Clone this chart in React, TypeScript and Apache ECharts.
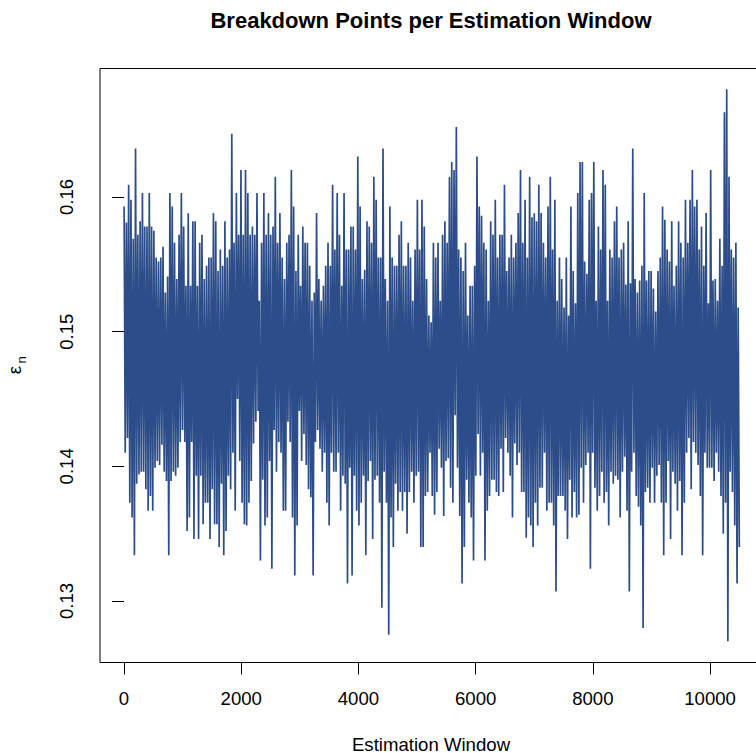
import React, { useEffect, useRef } from "react";
import * as echarts from "echarts";

// Breakdown point per estimation window, stored as successive window values
// (each row holds alternating local highs and lows of the dense series).
const epsilon: number[] = [
  0.1593, 0.1410, 0.1581, 0.1421, 0.1609, 0.1373, 0.1598, 0.1362, 0.1569, 0.1334, 0.1636, 0.1387, 0.1572, 0.1394,
  0.1582, 0.1396, 0.1603, 0.1396, 0.1578, 0.1383, 0.1578, 0.1367, 0.1603, 0.1378, 0.1578, 0.1367, 0.1575, 0.1399,
  0.1555, 0.1404, 0.1552, 0.1401, 0.1555, 0.1416, 0.1563, 0.1396, 0.1529, 0.1389, 0.1541, 0.1334, 0.1603, 0.1389,
  0.1593, 0.1396, 0.1566, 0.1393, 0.1539, 0.1399, 0.1572, 0.1418, 0.1603, 0.1427,

  0.1578, 0.1418, 0.1534, 0.1352, 0.1588, 0.1362, 0.1534, 0.1418, 0.1582, 0.1346, 0.1582, 0.1393, 0.1534, 0.1346,
  0.1566, 0.1393, 0.1572, 0.1357, 0.1539, 0.1373, 0.1549, 0.1373, 0.1555, 0.1346, 0.1555, 0.1383, 0.1588, 0.1357,
  0.1582, 0.1357, 0.1545, 0.1340, 0.1561, 0.1387, 0.1549, 0.1334, 0.1582, 0.1352, 0.1555, 0.1393, 0.1561, 0.1383,
  0.1647, 0.1410, 0.1566, 0.1367, 0.1603, 0.1450, 0.1572, 0.1404, 0.1620, 0.1373, 0.1572, 0.1357, 0.1620, 0.1356,
  0.1603, 0.1373, 0.1572, 0.1389, 0.1578, 0.1417, 0.1572, 0.1433, 0.1603, 0.1441, 0.1523, 0.1330,

  0.1566, 0.1390, 0.1603, 0.1356, 0.1572, 0.1362, 0.1588, 0.1404, 0.1572, 0.1324, 0.1578, 0.1427, 0.1615, 0.1396,
  0.1566, 0.1418, 0.1588, 0.1410, 0.1555, 0.1367, 0.1539, 0.1367, 0.1566, 0.1433, 0.1572, 0.1418, 0.1620, 0.1362,
  0.1593, 0.1319, 0.1545, 0.1356, 0.1572, 0.1441, 0.1534, 0.1404, 0.1578, 0.1424, 0.1566, 0.1401, 0.1566, 0.1383,
  0.1549, 0.1377, 0.1523, 0.1319, 0.1529, 0.1418, 0.1588, 0.1427, 0.1539, 0.1413, 0.1523, 0.1396, 0.1534, 0.1410,
  0.1549, 0.1373, 0.1566, 0.1356, 0.1549, 0.1410, 0.1609, 0.1396, 0.1561, 0.1396, 0.1603, 0.1410, 0.1572, 0.1367,

  0.1534, 0.1393, 0.1603, 0.1387, 0.1561, 0.1313, 0.1561, 0.1399, 0.1578, 0.1319, 0.1578, 0.1393, 0.1561, 0.1367,
  0.1630, 0.1356, 0.1593, 0.1373, 0.1539, 0.1393, 0.1546, 0.1334, 0.1582, 0.1389, 0.1578, 0.1404, 0.1566, 0.1346,
  0.1615, 0.1390, 0.1598, 0.1393, 0.1555, 0.1373, 0.1555, 0.1295, 0.1636, 0.1396, 0.1539, 0.1373, 0.1523, 0.1275,
  0.1593, 0.1362, 0.1555, 0.1340, 0.1549, 0.1387, 0.1549, 0.1367, 0.1572, 0.1381, 0.1582, 0.1367, 0.1549, 0.1381,
  0.1549, 0.1350, 0.1566, 0.1381, 0.1555, 0.1396, 0.1523, 0.1373, 0.1561, 0.1393, 0.1598, 0.1396, 0.1561, 0.1340,

  0.1598, 0.1340, 0.1578, 0.1378, 0.1539, 0.1381, 0.1512, 0.1410, 0.1507, 0.1378, 0.1566, 0.1364, 0.1555, 0.1381,
  0.1566, 0.1413, 0.1523, 0.1399, 0.1572, 0.1363, 0.1582, 0.1404, 0.1566, 0.1406, 0.1615, 0.1384, 0.1626, 0.1373,
  0.1620, 0.1438, 0.1652, 0.1399, 0.1561, 0.1363, 0.1555, 0.1313, 0.1545, 0.1340, 0.1566, 0.1390, 0.1512, 0.1373,
  0.1534, 0.1362, 0.1534, 0.1330, 0.1549, 0.1393, 0.1630, 0.1424, 0.1593, 0.1393, 0.1586, 0.1410, 0.1566, 0.1330,
  0.1561, 0.1367, 0.1523, 0.1378, 0.1582, 0.1390, 0.1572, 0.1390, 0.1598, 0.1381, 0.1555, 0.1378, 0.1572, 0.1413,

  0.1572, 0.1381, 0.1609, 0.1421, 0.1545, 0.1410, 0.1555, 0.1393, 0.1572, 0.1362, 0.1555, 0.1417, 0.1566, 0.1401,
  0.1588, 0.1410, 0.1620, 0.1381, 0.1566, 0.1381, 0.1598, 0.1347, 0.1555, 0.1362, 0.1615, 0.1356, 0.1585, 0.1340,
  0.1588, 0.1373, 0.1582, 0.1356, 0.1609, 0.1384, 0.1588, 0.1384, 0.1566, 0.1410, 0.1555, 0.1367, 0.1593, 0.1373,
  0.1615, 0.1373, 0.1561, 0.1356, 0.1598, 0.1307, 0.1523, 0.1378, 0.1555, 0.1378, 0.1539, 0.1378, 0.1518, 0.1367,
  0.1555, 0.1346, 0.1512, 0.1390, 0.1593, 0.1362, 0.1545, 0.1381, 0.1521, 0.1362, 0.1603, 0.1364, 0.1626, 0.1399,

  0.1626, 0.1373, 0.1552, 0.1401, 0.1543, 0.1410, 0.1598, 0.1324, 0.1603, 0.1410, 0.1626, 0.1384, 0.1523, 0.1367,
  0.1578, 0.1378, 0.1561, 0.1396, 0.1620, 0.1373, 0.1609, 0.1381, 0.1523, 0.1356, 0.1561, 0.1396, 0.1555, 0.1387,
  0.1582, 0.1393, 0.1593, 0.1390, 0.1555, 0.1362, 0.1561, 0.1396, 0.1566, 0.1407, 0.1535, 0.1367, 0.1582, 0.1307,
  0.1536, 0.1396, 0.1636, 0.1410, 0.1539, 0.1378, 0.1529, 0.1370, 0.1538, 0.1356, 0.1549, 0.1280, 0.1603, 0.1381,
  0.1538, 0.1384, 0.1545, 0.1373, 0.1545, 0.1399, 0.1532, 0.1373, 0.1515, 0.1393, 0.1545, 0.1401, 0.1555, 0.1373,

  0.1593, 0.1334, 0.1583, 0.1373, 0.1561, 0.1404, 0.1552, 0.1346, 0.1582, 0.1396, 0.1534, 0.1387, 0.1549, 0.1367,
  0.1582, 0.1389, 0.1566, 0.1334, 0.1555, 0.1373, 0.1598, 0.1410, 0.1566, 0.1421, 0.1598, 0.1383, 0.1620, 0.1418,
  0.1593, 0.1410, 0.1598, 0.1401, 0.1561, 0.1378, 0.1578, 0.1334, 0.1549, 0.1410, 0.1588, 0.1399, 0.1521, 0.1399,
  0.1620, 0.1399, 0.1538, 0.1389, 0.1539, 0.1410, 0.1523, 0.1396, 0.1569, 0.1378, 0.1549, 0.1350, 0.1663, 0.1373,
  0.1680, 0.1270, 0.1615, 0.1396, 0.1561, 0.1381, 0.1555, 0.1356, 0.1566, 0.1313, 0.1518, 0.1340,
];

// Spacing (in estimation windows) between consecutive stored values.
const windowStep = 19.55;

const xTicks = [0, 2000, 4000, 6000, 8000, 10000];
const yTicks = [0.13, 0.14, 0.15, 0.16];

const chartTitle = "Breakdown Points per Estimation Window";
const xTitle = "Estimation Window";
const yTitleSymbol = "ε";
const yTitleSub = "n";

const FONT = '"Liberation Sans", Arial, Helvetica, sans-serif';

export default function App() {
  const ref = useRef<HTMLDivElement>(null);

  useEffect(() => {
    if (!ref.current) return;
    const chart = echarts.init(ref.current, null, { renderer: "svg" });

    const seriesData = epsilon.map((v, i) => [1 + i * windowStep, v]);

    chart.setOption({
      animation: false,
      backgroundColor: "#ffffff",
      grid: {
        left: 100,
        top: 68.5,
        width: 662.8,
        height: 594,
        show: true,
        borderColor: "#000000",
        borderWidth: 1,
        backgroundColor: "transparent",
        outerBoundsMode: "none",
      },
      xAxis: {
        type: "value",
        min: -410,
        max: 10900,
        splitLine: { show: false },
        axisLine: { show: false },
        axisTick: {
          show: true,
          customValues: xTicks,
          length: 12,
          lineStyle: { color: "#000000", width: 1 },
        },
        axisLabel: {
          customValues: xTicks,
          margin: 26,
          color: "#000000",
          fontSize: 18.6,
          fontFamily: FONT,
          formatter: (v: number) => String(v),
        },
      },
      yAxis: {
        type: "value",
        min: 0.12543,
        max: 0.16954,
        splitLine: { show: false },
        axisLine: { show: false },
        axisTick: {
          show: true,
          customValues: yTicks,
          length: 12,
          lineStyle: { color: "#000000", width: 1 },
        },
        axisLabel: {
          customValues: yTicks,
          rotate: 90,
          margin: 24,
          align: "center",
          verticalAlign: "bottom",
          color: "#000000",
          fontSize: 18.6,
          fontFamily: FONT,
          formatter: (v: number) => v.toFixed(2),
        },
      },
      series: [
        {
          type: "line",
          data: seriesData,
          showSymbol: false,
          symbol: "none",
          silent: true,
          clip: true,
          lineStyle: { color: "#2c4d89", width: 1.7 },
        },
      ],
      graphic: [
        {
          type: "text",
          x: 431,
          y: 20.5,
          style: {
            text: chartTitle,
            font: `bold 22px ${FONT}`,
            fill: "#000000",
            align: "center",
            verticalAlign: "middle",
            textAlign: "center",
            textVerticalAlign: "middle",
          },
        },
        {
          type: "text",
          x: 431,
          y: 744,
          style: {
            text: xTitle,
            font: `18.6px ${FONT}`,
            fill: "#000000",
            align: "center",
            verticalAlign: "middle",
            textAlign: "center",
            textVerticalAlign: "middle",
          },
        },
        {
          type: "text",
          x: 14.6,
          y: 370,
          rotation: Math.PI / 2,
          style: {
            text: yTitleSymbol,
            font: `18.6px ${FONT}`,
            fill: "#000000",
            align: "center",
            verticalAlign: "middle",
            textAlign: "center",
            textVerticalAlign: "middle",
          },
        },
        {
          type: "text",
          x: 21.5,
          y: 360,
          rotation: Math.PI / 2,
          style: {
            text: yTitleSub,
            font: `13px ${FONT}`,
            fill: "#000000",
            align: "center",
            verticalAlign: "middle",
            textAlign: "center",
            textVerticalAlign: "middle",
          },
        },
      ],
    });

    return () => chart.dispose();
  }, []);

  return (
    <div
      ref={ref}
      style={{
        position: "fixed",
        left: 0,
        top: 0,
        width: 756,
        height: 753,
        overflow: "hidden",
        background: "#ffffff",
      }}
    />
  );
}
